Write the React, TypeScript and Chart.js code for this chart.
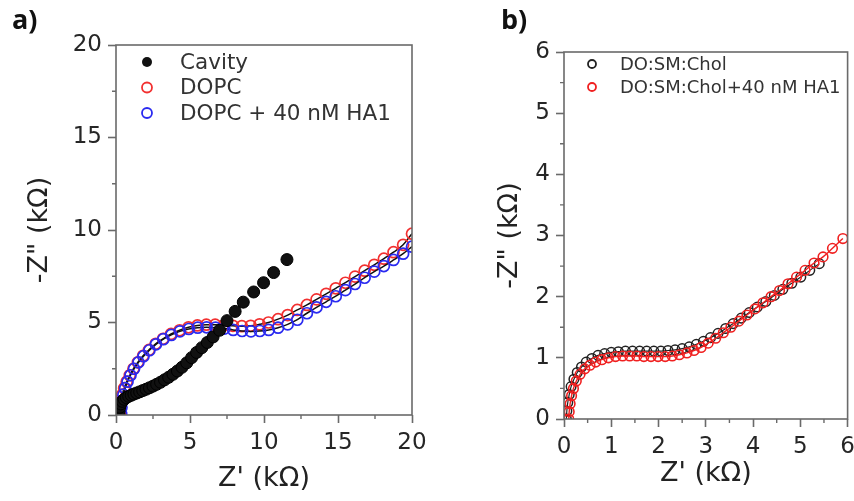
import React, { useEffect, useRef } from "react";
import { Chart, registerables } from "chart.js";
Chart.register(...registerables);

// ---------- Panel a data (Z' kΩ, -Z'' kΩ) ----------
const cavityX = [0.2, 0.21, 0.25, 0.32, 0.42, 0.55, 0.7, 0.86, 1.03, 1.21, 1.4, 1.6, 1.81, 2.03, 2.26, 2.5, 2.75, 3.01, 3.28, 3.56, 3.85, 4.15, 4.46, 4.78, 5.11, 5.45, 5.8, 6.17, 6.56, 7.0, 7.5, 8.05, 8.6, 9.3, 9.97, 10.65, 11.55];
const cavityY = [0.0, 0.2, 0.42, 0.6, 0.74, 0.85, 0.94, 1.01, 1.07, 1.13, 1.19, 1.25, 1.32, 1.39, 1.47, 1.56, 1.66, 1.77, 1.9, 2.04, 2.2, 2.38, 2.58, 2.82, 3.1, 3.38, 3.64, 3.92, 4.22, 4.58, 5.1, 5.6, 6.1, 6.65, 7.15, 7.7, 8.4];

const dopcX = [0.25, 0.28, 0.33, 0.42, 0.55, 0.72, 0.93, 1.18, 1.48, 1.83, 2.23, 2.68, 3.18, 3.72, 4.3, 4.9, 5.5, 6.1, 6.7, 7.3, 7.9, 8.5, 9.1, 9.7, 10.3, 10.95, 11.6, 12.25, 12.9, 13.55, 14.2, 14.85, 15.5, 16.15, 16.8, 17.45, 18.1, 18.75, 19.4, 20.0];
const dopcY = [0.05, 0.4, 0.75, 1.1, 1.45, 1.8, 2.15, 2.5, 2.85, 3.2, 3.52, 3.85, 4.12, 4.38, 4.58, 4.74, 4.84, 4.88, 4.88, 4.85, 4.82, 4.8, 4.82, 4.9, 5.0, 5.18, 5.4, 5.68, 5.95, 6.25, 6.55, 6.85, 7.15, 7.48, 7.8, 8.12, 8.45, 8.8, 9.2, 9.8];

const dopcHaX = [0.35, 0.37, 0.42, 0.5, 0.62, 0.78, 0.98, 1.22, 1.52, 1.86, 2.26, 2.7, 3.2, 3.74, 4.32, 4.92, 5.52, 6.12, 6.72, 7.32, 7.92, 8.52, 9.12, 9.72, 10.32, 10.95, 11.6, 12.25, 12.9, 13.55, 14.2, 14.85, 15.5, 16.15, 16.8, 17.45, 18.1, 18.75, 19.4, 20.0];
const dopcHaY = [0.05, 0.4, 0.75, 1.1, 1.45, 1.8, 2.15, 2.5, 2.85, 3.18, 3.5, 3.82, 4.1, 4.33, 4.52, 4.65, 4.72, 4.74, 4.72, 4.67, 4.6, 4.54, 4.52, 4.54, 4.6, 4.72, 4.9, 5.15, 5.5, 5.82, 6.12, 6.42, 6.75, 7.08, 7.42, 7.75, 8.05, 8.38, 8.72, 9.1];

// ---------- Panel b data ----------
const cholX = [0.05, 0.06, 0.08, 0.11, 0.15, 0.21, 0.28, 0.37, 0.47, 0.59, 0.72, 0.86, 1.0, 1.15, 1.3, 1.45, 1.6, 1.75, 1.9, 2.05, 2.2, 2.35, 2.5, 2.65, 2.8, 2.95, 3.1, 3.26, 3.42, 3.58, 3.75, 3.92, 4.09, 4.27, 4.45, 4.63, 4.82, 5.01, 5.2, 5.4];
const cholY = [0.0, 0.13, 0.27, 0.4, 0.53, 0.65, 0.76, 0.85, 0.93, 0.99, 1.04, 1.07, 1.09, 1.1, 1.11, 1.11, 1.11, 1.11, 1.11, 1.11, 1.12, 1.13, 1.15, 1.18, 1.22, 1.27, 1.33, 1.4, 1.48, 1.56, 1.65, 1.74, 1.83, 1.92, 2.02, 2.12, 2.22, 2.32, 2.43, 2.54];

const cholHaX = [0.1, 0.11, 0.13, 0.16, 0.2, 0.26, 0.34, 0.44, 0.55, 0.67, 0.8, 0.94, 1.09, 1.24, 1.39, 1.54, 1.69, 1.84, 1.99, 2.14, 2.29, 2.44, 2.6, 2.75, 2.9, 3.05, 3.21, 3.37, 3.53, 3.7, 3.87, 4.04, 4.21, 4.38, 4.56, 4.74, 4.92, 5.1, 5.29, 5.48, 5.68, 5.9];
const cholHaY = [0.0, 0.12, 0.25, 0.38, 0.5, 0.62, 0.73, 0.82, 0.88, 0.93, 0.97, 1.0, 1.02, 1.03, 1.03, 1.03, 1.02, 1.02, 1.02, 1.02, 1.03, 1.05, 1.08, 1.12, 1.17, 1.24, 1.32, 1.41, 1.5, 1.6, 1.7, 1.8, 1.9, 2.0, 2.1, 2.21, 2.32, 2.43, 2.55, 2.65, 2.79, 2.95];

// ---------- Labels & ticks ----------
const panelASeries = ["Cavity", "DOPC", "DOPC + 40 nM HA1"];
const panelBSeries = ["DO:SM:Chol", "DO:SM:Chol+40 nM HA1"];
const panelTags = ["a)", "b)"];
const xTitle = "Z' (kΩ)";
const yTitle = '-Z" (kΩ)';
const panelATicks = [0, 5, 10, 15, 20];
const panelAMinor = [2.5, 7.5, 12.5, 17.5];
const panelBTicks = [0, 1, 2, 3, 4, 5, 6];
const panelBMinor = [0.5, 1.5, 2.5, 3.5, 4.5, 5.5];

const FONT = "'DejaVu Sans', 'Liberation Sans', Arial, sans-serif";
const AXIS_COLOR = "#6a6a6a";

const pts = (xs: number[], ys: number[]) => xs.map((x, i) => ({ x, y: ys[i] }));

const framePlugin = {
  id: "frame",
  afterDatasetsDraw(chart: any) {
    const { ctx, chartArea: a } = chart;
    ctx.save();
    ctx.strokeStyle = AXIS_COLOR;
    ctx.lineWidth = 1.6;
    ctx.strokeRect(a.left, a.top, a.right - a.left, a.bottom - a.top);
    ctx.restore();
  },
};

const minorPlugin = {
  id: "minorTicks",
  afterDraw(chart: any, _args: any, opts: any) {
    const { ctx, chartArea: a, scales } = chart;
    const len = opts.length || 4;
    ctx.save();
    ctx.strokeStyle = AXIS_COLOR;
    ctx.lineWidth = 1.4;
    ctx.beginPath();
    (opts.x || []).forEach((v: number) => {
      const px = scales.x.getPixelForValue(v);
      ctx.moveTo(px, a.bottom);
      ctx.lineTo(px, a.bottom + len);
    });
    (opts.y || []).forEach((v: number) => {
      const py = scales.y.getPixelForValue(v);
      ctx.moveTo(a.left, py);
      ctx.lineTo(a.left - len, py);
    });
    ctx.stroke();
    ctx.restore();
  },
};

const legendPlugin = {
  id: "insetLegend",
  afterDraw(chart: any, _args: any, opts: any) {
    const { ctx, chartArea: a } = chart;
    ctx.save();
    ctx.font = `${opts.fontSize}px ${FONT}`;
    ctx.textBaseline = "middle";
    ctx.textAlign = "left";
    chart.data.datasets.forEach((ds: any, i: number) => {
      const y = a.top + opts.top + i * opts.spacing;
      const mx = a.left + opts.markerX;
      ctx.beginPath();
      ctx.arc(mx, y, opts.radius, 0, Math.PI * 2);
      if (ds.legendFilled) {
        ctx.fillStyle = ds.pointBackgroundColor;
        ctx.fill();
      } else {
        ctx.strokeStyle = ds.pointBorderColor;
        ctx.lineWidth = 1.8;
        ctx.stroke();
      }
      ctx.fillStyle = "#333";
      ctx.fillText(ds.label, a.left + opts.textX, y + 1);
    });
    ctx.restore();
  },
};

type PanelProps = {
  left: number;
  width: number;
  pad: { top: number; right: number };
  yWidth: number;
  xHeight: number;
  max: { x: number; y: number };
  ticks: number[];
  minor: number[];
  datasets: any[];
  yTitlePad: number;
  xTitlePad: number;
  legend: any;
};

function Panel(p: PanelProps) {
  const ref = useRef<HTMLCanvasElement>(null);
  useEffect(() => {
    if (!ref.current) return;
    const tickFont = { family: FONT, size: 23 };
    const titleFont = { family: FONT, size: 27 };
    const common = {
      type: "linear",
      min: 0,
      border: { display: false },
      grid: { drawOnChartArea: false, drawTicks: true, tickLength: 8, tickColor: AXIS_COLOR, tickWidth: 1.6 },
      afterBuildTicks: (s: any) => {
        s.ticks = p.ticks.map((v) => ({ value: v }));
      },
    };
    const chart = new Chart(ref.current, {
      type: "scatter",
      data: { datasets: p.datasets },
      plugins: [framePlugin, minorPlugin, legendPlugin],
      options: {
        responsive: false,
        animation: false,
        layout: { padding: { left: 0, top: p.pad.top, right: p.pad.right, bottom: 0 } },
        scales: {
          x: {
            ...common,
            max: p.max.x,
            position: "bottom",
            ticks: { font: tickFont, color: "#262626", padding: 6, autoSkip: false, maxRotation: 0 },
            title: { display: true, text: xTitle, font: titleFont, color: "#222", padding: { top: 0, bottom: p.xTitlePad } },
            afterFit: (s: any) => {
              s.height = p.xHeight;
              s.paddingLeft = 0;
              s.paddingRight = 0;
            },
          },
          y: {
            ...common,
            max: p.max.y,
            position: "left",
            ticks: { font: tickFont, color: "#262626", padding: 6, autoSkip: false },
            title: { display: true, text: yTitle, font: titleFont, color: "#222", padding: { top: p.yTitlePad, bottom: 0 } },
            afterFit: (s: any) => {
              s.width = p.yWidth;
              s.paddingTop = 0;
              s.paddingBottom = 0;
            },
          },
        },
        plugins: {
          legend: { display: false },
          tooltip: { enabled: false },
          minorTicks: { x: p.minor, y: p.minor, length: 4 },
          insetLegend: p.legend,
        },
      } as any,
    } as any);
    return () => chart.destroy();
  }, []);
  return (
    <div style={{ position: "absolute", left: p.left, top: 0, width: p.width, height: 501 }}>
      <canvas ref={ref} width={p.width} height={501} style={{ width: p.width, height: 501, display: "block" }} />
    </div>
  );
}

const fitLine = {
  showLine: true,
  borderColor: "#111",
  borderWidth: 1.5,
  cubicInterpolationMode: "monotone",
  pointStyle: "circle",
};

const panelADatasets = [
  {
    label: panelASeries[0],
    data: pts(cavityX, cavityY),
    showLine: false,
    pointRadius: 6,
    pointBackgroundColor: "#111",
    pointBorderColor: "#000",
    pointBorderWidth: 1,
    legendFilled: true,
    order: 0,
  },
  {
    ...fitLine,
    label: panelASeries[1],
    data: pts(dopcX, dopcY),
    pointRadius: 5.5,
    pointBorderWidth: 1.7,
    pointBorderColor: "#f23030",
    pointBackgroundColor: "rgba(0,0,0,0)",
    order: 2,
  },
  {
    ...fitLine,
    label: panelASeries[2],
    data: pts(dopcHaX, dopcHaY),
    pointRadius: 5.5,
    pointBorderWidth: 1.7,
    pointBorderColor: "#2a2af0",
    pointBackgroundColor: "rgba(0,0,0,0)",
    order: 1,
  },
];

const panelBDatasets = [
  {
    ...fitLine,
    label: panelBSeries[0],
    data: pts(cholX, cholY),
    borderColor: "#222",
    borderWidth: 1.2,
    pointRadius: 4.8,
    pointBorderWidth: 1.5,
    pointBorderColor: "#222",
    pointBackgroundColor: "rgba(0,0,0,0)",
    order: 1,
  },
  {
    ...fitLine,
    label: panelBSeries[1],
    data: pts(cholHaX, cholHaY),
    borderColor: "#f02020",
    borderWidth: 1.4,
    pointRadius: 4.8,
    pointBorderWidth: 1.6,
    pointBorderColor: "#f02020",
    pointBackgroundColor: "rgba(0,0,0,0)",
    order: 0,
  },
];

export default function App() {
  const tagStyle: React.CSSProperties = {
    position: "absolute",
    fontFamily: "'Open Sans', 'Liberation Sans', sans-serif",
    fontWeight: 700,
    fontSize: 27,
    lineHeight: "30px",
    color: "#111",
    whiteSpace: "nowrap",
  };
  return (
    <div style={{ position: "absolute", left: 0, top: 0, width: 854, height: 501, overflow: "hidden", background: "#fff" }}>
      <Panel
        left={0}
        width={430}
        pad={{ top: 45, right: 18 }}
        yWidth={116}
        xHeight={86}
        max={{ x: 20, y: 20 }}
        ticks={panelATicks}
        minor={panelAMinor}
        datasets={panelADatasets}
        yTitlePad={24}
        xTitlePad={6}
        legend={{ top: 17, spacing: 25.5, markerX: 31, textX: 64, radius: 5, fontSize: 21.5 }}
      />
      <Panel
        left={440}
        width={414}
        pad={{ top: 52, right: 6 }}
        yWidth={124}
        xHeight={82}
        max={{ x: 6, y: 6 }}
        ticks={panelBTicks}
        minor={panelBMinor}
        datasets={panelBDatasets}
        yTitlePad={54}
        xTitlePad={11}
        legend={{ top: 12, spacing: 23, markerX: 28, textX: 56, radius: 4, fontSize: 18 }}
      />
      <div style={{ ...tagStyle, left: 12, top: 4 }}>{panelTags[0]}</div>
      <div style={{ ...tagStyle, left: 501, top: 4 }}>{panelTags[1]}</div>
    </div>
  );
}
